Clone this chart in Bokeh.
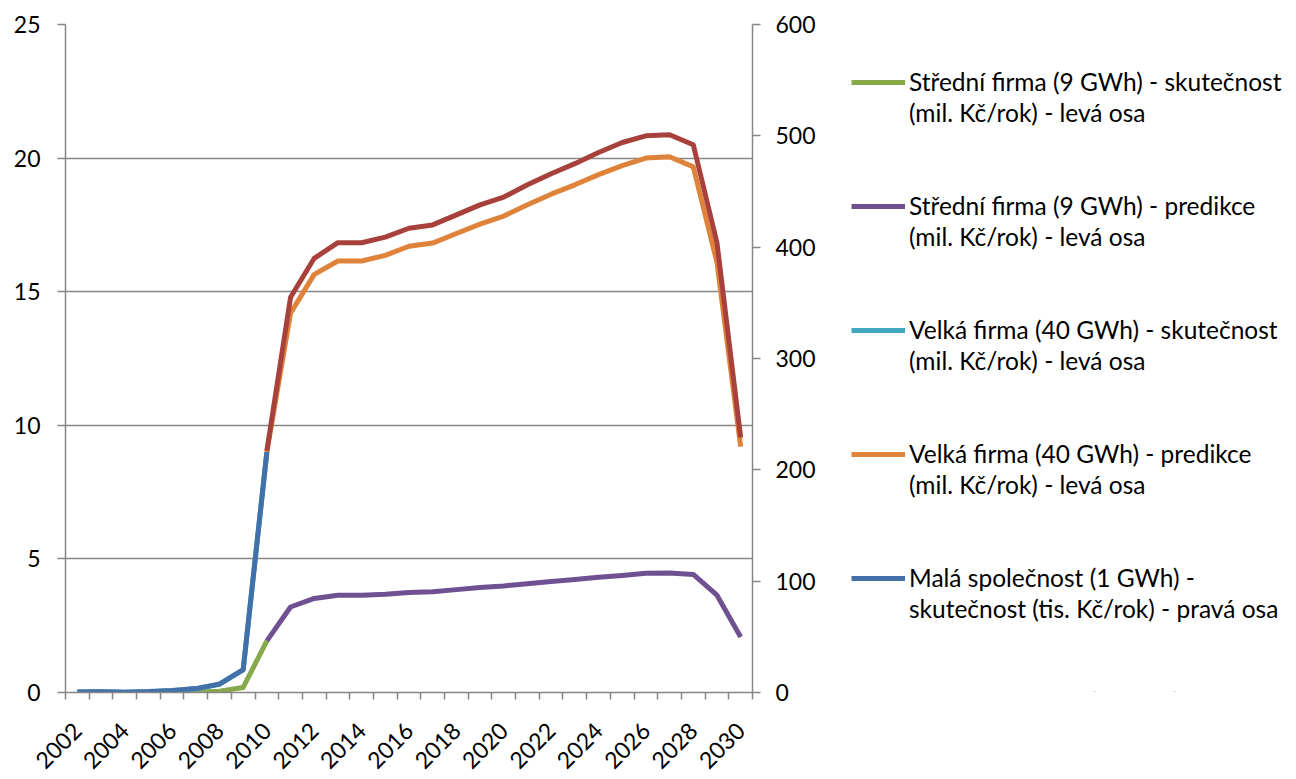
import math
from bokeh.plotting import figure
from bokeh.layouts import row
from bokeh.models import Range1d, LinearAxis, FixedTicker, Legend, LegendItem
from bokeh.embed import file_html
from bokeh.resources import INLINE

years = list(range(2002, 2031))
years_actual = list(range(2002, 2011))
years_pred = list(range(2010, 2031))

# Střední firma (9 GWh) - skutečnost, left axis (mil. Kč/rok)
stredni_skut = [0, 0, 0, 0, 0.01, 0.02, 0.05, 0.19, 1.93]
# Střední firma (9 GWh) - predikce, left axis
stredni_pred = [1.93, 3.2, 3.52, 3.64, 3.64, 3.68, 3.74, 3.77, 3.85, 3.93, 3.99,
                4.07, 4.15, 4.23, 4.31, 4.38, 4.46, 4.47, 4.42, 3.64, 2.08]
# Velká firma (40 GWh) - skutečnost, left axis
velka_skut = [0.02, 0.03, 0.01, 0.03, 0.07, 0.14, 0.31, 0.85, 9.0]
# Velká firma (40 GWh) - predikce, left axis
velka_pred = [9.0, 14.2, 15.65, 16.15, 16.15, 16.36, 16.7, 16.82, 17.18, 17.53, 17.83,
              18.25, 18.65, 19.0, 19.38, 19.72, 20.0, 20.05, 19.67, 16.1, 9.2]
# Malá společnost (1 GWh) - skutečnost, right axis (tis. Kč/rok)
mala_skut = [0.4, 0.6, 0.3, 0.8, 1.8, 3.5, 7.5, 20.5, 216]
# Malá společnost (1 GWh) - predikce, right axis
mala_pred = [217, 355, 390, 404, 404, 409, 417, 420, 429, 438, 445,
             456, 466, 475, 485, 494, 500, 501, 492, 404, 229]

labels_line1 = [
    "Střední firma (9 GWh) - skutečnost",
    "Střední firma (9 GWh) - predikce",
    "Velká firma (40 GWh) - skutečnost",
    "Velká firma (40 GWh) - predikce",
    "Malá společnost (1 GWh) -",
    "Malá společnost (1 GWh)- predikce",
]
labels_line2 = [
    "(mil. Kč/rok) - levá osa",
    "(mil. Kč/rok) - levá osa",
    "(mil. Kč/rok) - levá osa",
    "(mil. Kč/rok) - levá osa",
    "skutečnost (tis. Kč/rok) - pravá osa",
    "(tis. Kč/rok) - pravá osa",
]
colors = ["#86a94a", "#6f5191", "#40a6c2", "#e0833a", "#4270a8", "#a8413c"]

FONT = "Lato"
GRAY = "#868686"

p = figure(width=840, height=779, output_backend="svg", toolbar_location=None,
           x_range=Range1d(2001.5, 2030.5), y_range=Range1d(0, 25),
           min_border_left=65, min_border_right=88, min_border_top=24,
           min_border_bottom=84)
p.outline_line_color = None
p.background_fill_color = "white"
p.border_fill_color = "white"
p.xgrid.visible = False
p.ygrid.grid_line_color = GRAY
p.ygrid.grid_line_width = 1.5
p.ygrid.ticker = FixedTicker(ticks=[0, 5, 10, 15, 20, 25])

p.extra_y_ranges = {"right": Range1d(0, 600)}

# left axis
ya = p.yaxis[0]
ya.ticker = FixedTicker(ticks=[0, 5, 10, 15, 20, 25])
ya.axis_line_color = GRAY
ya.axis_line_width = 1.5
ya.major_tick_line_color = GRAY
ya.major_tick_line_width = 1.5
ya.major_tick_out = 8
ya.major_tick_in = 0
ya.minor_tick_line_color = None
ya.major_label_text_font = FONT
ya.major_label_text_font_size = "23px"
ya.major_label_text_color = "black"
ya.major_label_standoff = 17

# right axis
ra = LinearAxis(y_range_name="right", ticker=FixedTicker(ticks=[0, 100, 200, 300, 400, 500, 600]))
ra.axis_line_color = GRAY
ra.axis_line_width = 1.5
ra.major_tick_line_color = GRAY
ra.major_tick_line_width = 1.5
ra.major_tick_out = 8
ra.major_tick_in = 0
ra.minor_tick_line_color = None
ra.major_label_text_font = FONT
ra.major_label_text_font_size = "23px"
ra.major_label_text_color = "black"
ra.major_label_standoff = 15
p.add_layout(ra, "right")

# bottom axis
xa = p.xaxis[0]
xa.ticker = FixedTicker(ticks=[y for y in years if y % 2 == 0],
                        minor_ticks=[y - 0.5 for y in years] + [2030.5])
xa.axis_line_color = GRAY
xa.axis_line_width = 1.5
xa.major_tick_line_color = None
xa.major_tick_out = 0
xa.major_tick_in = 0
xa.minor_tick_line_color = GRAY
xa.minor_tick_line_width = 1.5
xa.minor_tick_out = 7
xa.minor_tick_in = 0
xa.major_label_orientation = math.pi / 4
xa.major_label_text_font = FONT
xa.major_label_text_font_size = "23px"
xa.major_label_text_color = "black"
xa.major_label_standoff = 27

series = [
    (years_actual, stredni_skut),
    (years_pred, stredni_pred),
    (years_actual, velka_skut),
    (years_pred, velka_pred),
    (years_actual, mala_skut),
    (years_pred, mala_pred),
]
ranges = ["default", "default", "default", "default", "right", "right"]

lw = 5
for (xs, ys), c, rn in zip(series, colors, ranges):
    p.line(xs, ys, line_color=c, line_width=lw, line_join="round", y_range_name=rn)

# legend panel (separate figure so the legend is not clipped by the chart frame)
pl = figure(width=456, height=779, output_backend="svg", toolbar_location=None,
            x_range=Range1d(0, 1), y_range=Range1d(0, 1),
            x_axis_type=None, y_axis_type=None, min_border=0)
pl.outline_line_color = None
pl.grid.visible = False
pl.background_fill_color = "white"
pl.border_fill_color = "white"

items = []
for (xs, ys), c, l1, l2 in zip(series, colors, labels_line1, labels_line2):
    r = pl.line(xs, ys, line_color=c, line_width=lw)
    blank = pl.line(xs, ys, line_alpha=0)
    items.append(LegendItem(label=l1, renderers=[r]))
    items.append(LegendItem(label=l2, renderers=[blank]))
    items.append(LegendItem(label=" ", renderers=[blank]))
    items.append(LegendItem(label=" ", renderers=[blank]))
items = items[:-2]

legend = Legend(items=items, location=(11, -55))
legend.padding = 0
legend.margin = 0
legend.border_line_color = None
legend.background_fill_alpha = 0
legend.label_text_font = FONT
legend.label_text_font_size = "24.5px"
legend.label_text_color = "black"
legend.label_height = 29
legend.glyph_width = 54
legend.glyph_height = 20
legend.label_standoff = 4
legend.spacing = 2
pl.add_layout(legend, "center")

layout = row(p, pl)
open("out.html", "w").write(file_html(layout, INLINE))
